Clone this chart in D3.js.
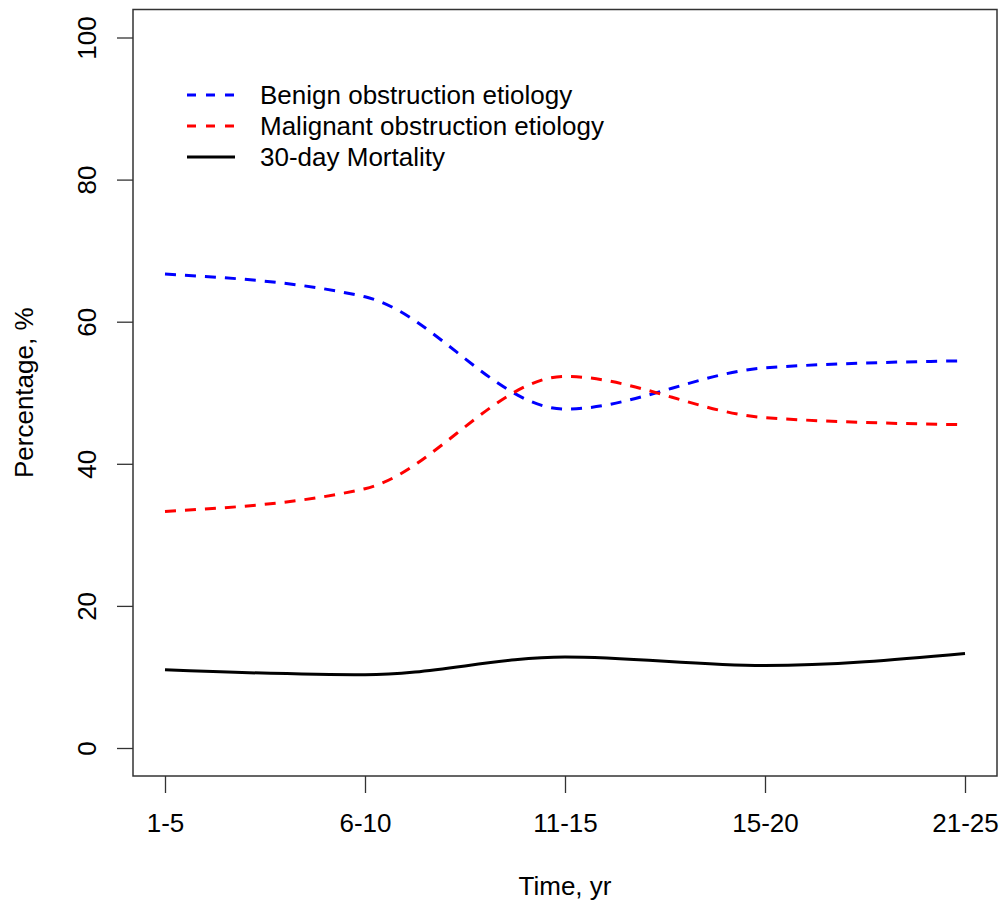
<!DOCTYPE html>
<html>
<head>
<meta charset="utf-8">
<script src="https://cdn.jsdelivr.net/npm/d3@7"></script>
<style>
  body { margin: 0; background: #fff; }
  text { font-family: "Liberation Sans", Arial, sans-serif; fill: #000; }
</style>
</head>
<body>
<script>
// data
var periods = ["1-5", "6-10", "11-15", "15-20", "21-25"];
var benign = [66.7, 63.5, 47.7, 53.5, 54.5];
var malignant = [33.3, 36.5, 52.3, 46.5, 45.5];
var mortality = [11.0, 10.3, 12.8, 11.6, 13.3];
var yTicks = [0, 20, 40, 60, 80, 100];
var legendLabels = ["Benign obstruction etiology", "Malignant obstruction etiology", "30-day Mortality"];

var W = 1001, H = 904;
var box = { left: 133, right: 997, top: 9.5, bottom: 776 };

var svg = d3.select("body").append("svg")
    .attr("width", W)
    .attr("height", H);

var x = d3.scalePoint()
    .domain(periods)
    .range([165, 965]);

var y = d3.scaleLinear()
    .domain([0, 100])
    .range([748, 37.5]);

// plot frame
svg.append("rect")
    .attr("x", box.left)
    .attr("y", box.top)
    .attr("width", box.right - box.left)
    .attr("height", box.bottom - box.top)
    .attr("fill", "none")
    .attr("stroke", "#333")
    .attr("stroke-width", 1.5);

// x axis
var xAxis = svg.append("g")
    .attr("transform", "translate(0," + box.bottom + ")")
    .call(d3.axisBottom(x).tickSize(17).tickPadding(21));
xAxis.select(".domain").remove();
xAxis.selectAll("line").attr("stroke", "#333").attr("stroke-width", 1.3);
xAxis.selectAll("text").style("font-size", "26px").attr("font-family", null);

// y axis, labels rotated like R's default
var yAxis = svg.append("g")
    .attr("transform", "translate(" + box.left + ",0)")
    .call(d3.axisLeft(y).tickValues(yTicks).tickSize(16));
yAxis.select(".domain").remove();
yAxis.selectAll("line").attr("stroke", "#333").attr("stroke-width", 1.3);
yAxis.selectAll("text")
    .style("font-size", "26px")
    .attr("font-family", null)
    .attr("x", null).attr("dy", null)
    .attr("text-anchor", "middle")
    .attr("transform", "translate(-37,0) rotate(-90)");

// axis titles
svg.append("text")
    .attr("x", (box.left + box.right) / 2)
    .attr("y", 895)
    .attr("text-anchor", "middle")
    .style("font-size", "26px")
    .text("Time, yr");

svg.append("text")
    .attr("transform", "translate(33," + (box.top + box.bottom) / 2 + ") rotate(-90)")
    .attr("text-anchor", "middle")
    .style("font-size", "26px")
    .text("Percentage, %");

// series
var series = [
  { values: benign, color: "#0000ff", dash: "11,9" },
  { values: malignant, color: "#ff0000", dash: "11,9" },
  { values: mortality, color: "#000000", dash: null }
];

var line = d3.line()
    .x(function (d, i) { return x(periods[i]); })
    .y(function (d) { return y(d); })
    .curve(d3.curveMonotoneX);

series.forEach(function (s) {
  svg.append("path")
      .attr("d", line(s.values))
      .attr("fill", "none")
      .attr("stroke", s.color)
      .attr("stroke-width", 3)
      .attr("stroke-dasharray", s.dash);
});

// legend
var legend = svg.append("g");
series.forEach(function (s, i) {
  var ly = 95 + i * 31;
  legend.append("line")
      .attr("x1", 187).attr("x2", 235)
      .attr("y1", ly).attr("y2", ly)
      .attr("stroke", s.color)
      .attr("stroke-width", 3)
      .attr("stroke-dasharray", s.dash ? "9,10" : null);
  legend.append("text")
      .attr("x", 260)
      .attr("y", ly)
      .attr("dy", "0.35em")
      .style("font-size", "26px")
      .text(legendLabels[i]);
});
</script>
</body>
</html>
